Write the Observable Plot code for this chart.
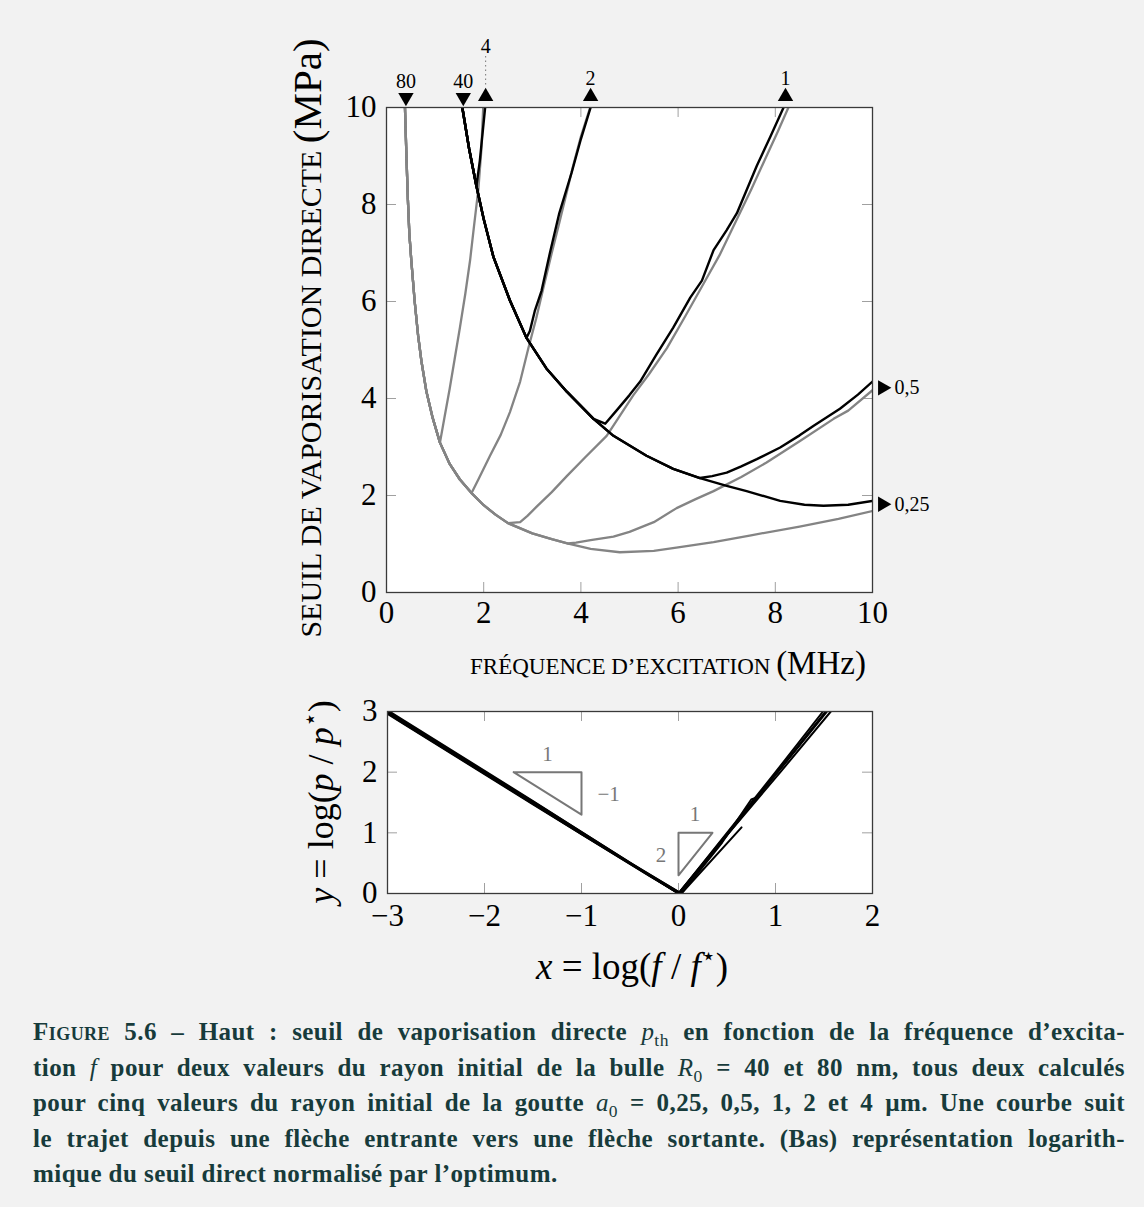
<!DOCTYPE html>
<html>
<head>
<meta charset="utf-8">
<script src="https://cdn.jsdelivr.net/npm/d3@7"></script>
<script src="https://cdn.jsdelivr.net/npm/@observablehq/plot@0.6"></script>
<style>
html, body { margin: 0; padding: 0; background: #f2f2f2; }
#page { position: relative; width: 1144px; height: 1207px; background: #f2f2f2; overflow: hidden; }
#top { position: absolute; left: 0; top: 0; }
#bottom { position: absolute; left: 0; top: 690px; }
#caption { position: absolute; left: 33px; width: 1092px; top: 1014px;
  font-family: "Liberation Serif", serif; font-weight: bold; font-size: 25px;
  letter-spacing: 0.45px; line-height: 35.5px; color: #173b3b; }
#caption .j { text-align: justify; text-align-last: justify; white-space: nowrap; }
#caption .sc { font-variant: small-caps; }
#caption i { font-weight: normal; }
#caption sub { font-size: 70%; line-height: 0; font-weight: normal; }
svg text { font-family: "Liberation Serif", serif; }
</style>
</head>
<body>
<div id="page">
  <div id="top"></div>
  <div id="bottom"></div>
  <div id="caption">
    <div class="j"><span class="sc">Figure</span> 5.6 – Haut : seuil de vaporisation directe <i>p</i><sub>th</sub> en fonction de la fréquence d’excita-</div>
    <div class="j">tion <i>f</i> pour deux valeurs du rayon initial de la bulle <i>R</i><sub>0</sub> = 40 et 80 nm, tous deux calculés</div>
    <div class="j">pour cinq valeurs du rayon initial de la goutte <i>a</i><sub>0</sub> = 0,25, 0,5, 1, 2 et 4 µm. Une courbe suit</div>
    <div class="j">le trajet depuis une flèche entrante vers une flèche sortante. (Bas) représentation logarith-</div>
    <div>mique du seuil direct normalisé par l’optimum.</div>
  </div>
</div>
<script>
// ---------------- DATA ----------------
// Top panel: frequency (MHz) vs direct vaporisation threshold (MPa)
const xTicksTop = [0, 2, 4, 6, 8, 10];
const yTicksTop = [0, 2, 4, 6, 8, 10];
const innerTicksTop = [2, 4, 6, 8];

// R0 = 80 nm (grey): common descending branch, which is the a0 = 0.25 µm curve
const gray_a025 = [[0.38,10],[0.41,9.0],[0.44,8.1],[0.47,7.4],[0.51,6.85],[0.58,6.0],[0.65,5.3],[0.72,4.76],[0.82,4.15],[0.95,3.6],[1.1,3.09],[1.3,2.65],[1.51,2.33],[1.75,2.05],[2.0,1.8],[2.25,1.6],[2.5,1.43],[3.0,1.22],[3.4,1.1],[3.74,1.01],[4.2,0.9],[4.8,0.83],[5.5,0.86],[6.0,0.93],[6.73,1.04],[7.5,1.18],[8.5,1.36],[9.3,1.52],[10,1.68]];
// grey branches leaving the common branch (first point = branch point)
const gray_a05 = [[3.74,1.01],[3.9,1.03],[4.2,1.08],[4.67,1.15],[5.0,1.25],[5.5,1.45],[5.97,1.74],[6.35,1.92],[6.73,2.09],[7.3,2.38],[7.82,2.68],[8.5,3.12],[9.2,3.58],[9.5,3.75],[10,4.17]];
const gray_a1 = [[2.5,1.43],[2.75,1.45],[2.9,1.58],[3.09,1.77],[3.4,2.07],[3.71,2.4],[4.1,2.8],[4.53,3.23],[5.08,4.07],[5.4,4.5],[5.77,5.04],[6.15,5.7],[6.52,6.36],[6.85,6.95],[7.14,7.55],[7.5,8.3],[7.82,9.0],[8.05,9.5],[8.27,10]];
const gray_a2 = [[1.75,2.05],[1.9,2.35],[2.13,2.82],[2.35,3.25],[2.54,3.72],[2.75,4.35],[2.92,5.04],[3.08,5.65],[3.23,6.29],[3.4,7.0],[3.57,7.68],[3.72,8.3],[3.84,8.8],[4.0,9.4],[4.19,10]];
const gray_a4 = [[1.1,3.09],[1.2,3.65],[1.3,4.2],[1.4,4.8],[1.51,5.46],[1.62,6.15],[1.72,6.85],[1.8,7.55],[1.89,8.31],[1.95,9.1],[1.99,10]];

// R0 = 40 nm (black): common descending branch, which is the a0 = 0.25 µm curve
const black_a025 = [[1.56,10],[1.7,9.15],[1.85,8.38],[2.0,7.7],[2.2,6.92],[2.54,6.02],[2.88,5.25],[3.29,4.62],[3.71,4.14],[4.26,3.58],[4.67,3.23],[5.35,2.82],[5.9,2.55],[6.45,2.36],[7.0,2.2],[7.41,2.09],[8.1,1.89],[8.6,1.81],[8.99,1.79],[9.5,1.81],[10,1.89]];
const black_a05 = [[6.45,2.36],[6.7,2.4],[7.0,2.47],[7.3,2.6],[7.62,2.75],[8.1,2.99],[8.5,3.24],[8.79,3.44],[9.33,3.79],[9.7,4.08],[10,4.35]];
const black_a1 = [[4.26,3.58],[4.5,3.48],[4.74,3.76],[5.0,4.07],[5.22,4.35],[5.55,4.9],[5.9,5.46],[6.25,6.08],[6.49,6.43],[6.73,7.06],[7.0,7.47],[7.21,7.82],[7.62,8.8],[7.9,9.4],[8.17,10]];
const black_a2 = [[2.88,5.25],[2.95,5.39],[3.05,5.8],[3.19,6.22],[3.36,6.99],[3.55,7.8],[3.81,8.66],[4.0,9.35],[4.2,10]];
const black_a4 = [[1.85,8.38],[1.92,8.9],[1.97,9.4],[2.03,10]];

// arrows: entering (R0 in nm) and leaving (a0 in µm)
const inArrows = [{label: "80", x: 0.4}, {label: "40", x: 1.58}];
const outTopArrows = [{label: "4", x: 2.04, high: true}, {label: "2", x: 4.2, high: false}, {label: "1", x: 8.21, high: false}];
const outRightArrows = [{label: "0,5", y: 4.22}, {label: "0,25", y: 1.82}];

// Bottom panel: normalised log-log representation
const xTicksBot = [-3, -2, -1, 0, 1, 2];
const yTicksBot = [0, 1, 2, 3];
const innerXBot = [-2, -1, 0, 1];
const innerYBot = [1, 2];
const norm1 = [[-3,3],[-2,2],[-1,1],[0,0],[0.5,1],[1,2],[1.49,3]];
const norm2 = [[-3,2.98],[-2,1.98],[-1,0.98],[0,0],[0.52,1.0],[1.05,2.0],[1.57,3]];
const norm3 = [[-2.57,2.55],[-1.5,1.515],[-0.5,0.51],[0.03,0],[0.65,1.09]];
const norm4 = [[-2.9,2.87],[-1.8,1.78],[-0.6,0.595],[0.03,0],[0.45,0.84],[0.72,1.48],[0.75,1.55],[0.8,1.58],[1.2,2.36],[1.51,2.98]];
const norm5 = [[-3,3.02],[-1.5,1.525],[0,0],[0.6,1.18],[1.1,2.15],[1.53,3]];
const norm6 = [[-3,2.96],[-1.5,1.47],[-0.3,0.29],[0.01,0],[0.55,1.06],[1.52,3]];
const slopeTriLeft = [[-1.7,2],[-1,2],[-1,1.3],[-1.7,2]];
const slopeTriRight = [[0,1],[0.35,1],[0,0.3],[0,1]];
const slopeLabels = [{x:-1.35,y:2.3,t:"1"},{x:-0.72,y:1.64,t:"−1"},{x:0.17,y:1.31,t:"1"},{x:-0.18,y:0.63,t:"2"}];

// ---------------- build tables ----------------
function pathRows(desc, branch, id) {
  const pts = branch ? desc.filter(p => p[0] < branch[0][0]).concat(branch) : desc;
  return pts.map(([x, y]) => ({id, x, y}));
}
const grayRows = [
  ...pathRows(gray_a025, null, "g025"), ...pathRows(gray_a025, gray_a05, "g05"),
  ...pathRows(gray_a025, gray_a1, "g1"), ...pathRows(gray_a025, gray_a2, "g2"),
  ...pathRows(gray_a025, gray_a4, "g4")];
const blackRows = [
  ...pathRows(black_a025, null, "b025"), ...pathRows(black_a025, black_a05, "b05"),
  ...pathRows(black_a025, black_a1, "b1"), ...pathRows(black_a025, black_a2, "b2"),
  ...pathRows(black_a025, black_a4, "b4")];
const normRows = [norm1, norm2, norm3, norm4, norm5, norm6].flatMap((c, i) => c.map(([x, y]) => ({id: i, x, y})));
const toRows = a => a.map(([x, y]) => ({x, y}));

const minusFmt = d => d < 0 ? "−" + Math.abs(d) : String(d);
const FONT = "Liberation Serif";
const TICK = 10;
const tickColor = "#a0a0a0";
const frameColor = "#3a3a3a";

// ---------------- top chart ----------------
const topW = 1144, topH = 690, tML = 386, tMR = 272, tMT = 107, tMB = 98;
const tFW = topW - tML - tMR, tFH = topH - tMT - tMB;
const topSvg = Plot.plot({
  width: topW, height: topH,
  marginLeft: tML, marginRight: tMR, marginTop: tMT, marginBottom: tMB,
  x: {domain: [0, 10]}, y: {domain: [0, 10]},
  style: {background: "transparent", fontFamily: FONT, overflow: "visible"},
  marks: [
    Plot.frame({fill: "white"}),
    Plot.tickX(innerTicksTop, {x: d => d, insetTop: tFH - TICK, stroke: tickColor}),
    Plot.tickX(innerTicksTop, {x: d => d, insetBottom: tFH - TICK, stroke: tickColor}),
    Plot.tickY(innerTicksTop, {y: d => d, insetRight: tFW - TICK, stroke: tickColor}),
    Plot.tickY(innerTicksTop, {y: d => d, insetLeft: tFW - TICK, stroke: tickColor}),
    Plot.line(grayRows, {x: "x", y: "y", z: "id", stroke: "#848484", strokeWidth: 2.3, clip: true}),
    Plot.line(blackRows, {x: "x", y: "y", z: "id", stroke: "#000", strokeWidth: 2.4, clip: true}),
    Plot.frame({stroke: frameColor, strokeWidth: 1.3}),
    Plot.axisX({ticks: xTicksTop, tickSize: 0, tickPadding: 8, fontSize: 31, label: null, tickFormat: minusFmt}),
    Plot.axisY({ticks: yTicksTop, tickSize: 0, tickPadding: 10, fontSize: 31, label: null, tickFormat: minusFmt}),
    // arrows
    Plot.dot(inArrows, {x: "x", frameAnchor: "top", symbol: "triangle", r: 5.7, rotate: 180, fill: "black", dy: -10}),
    Plot.dot(outTopArrows, {x: "x", frameAnchor: "top", symbol: "triangle", r: 5.7, fill: "black", dy: -11}),
    Plot.dot(outRightArrows, {y: "y", frameAnchor: "right", symbol: "triangle", r: 5.7, rotate: 90, fill: "black", dx: 10}),
    Plot.text(inArrows, {x: "x", frameAnchor: "top", text: "label", dy: -34, fontSize: 20}),
    Plot.text(outTopArrows.filter(d => !d.high), {x: "x", frameAnchor: "top", text: "label", dy: -37, fontSize: 20}),
    Plot.text(outTopArrows.filter(d => d.high), {x: "x", frameAnchor: "top", text: "label", dy: -69, fontSize: 20}),
    Plot.tickX(outTopArrows.filter(d => d.high), {x: "x", insetBottom: tFH - 29, dy: -51, stroke: "#777", strokeDasharray: "1.5,3"}),
    Plot.text(outRightArrows, {y: "y", frameAnchor: "right", text: "label", dx: 22, textAnchor: "start", fontSize: 20})
  ]
});
document.getElementById("top").appendChild(topSvg);

// axis titles (small caps emulated with smaller capitals)
{
  const s = d3.select(topSvg);
  const xl = s.append("text").attr("x", 668).attr("y", 674).attr("text-anchor", "middle").attr("fill", "black");
  xl.append("tspan").attr("font-size", 23).text("FRÉQUENCE D’EXCITATION ");
  xl.append("tspan").attr("font-size", 33).text("(MHz)");
  const yl = s.append("text").attr("transform", `translate(321,338) rotate(-90)`).attr("text-anchor", "middle").attr("fill", "black");
  yl.append("tspan").attr("font-size", 30).text("SEUIL DE VAPORISATION DIRECTE ");
  yl.append("tspan").attr("font-size", 41).text("(MPa)");
}

// ---------------- bottom chart ----------------
const botW = 1144, botH = 310, bML = 387, bMR = 272, bMT = 21, bMB = 107;
const bFW = botW - bML - bMR, bFH = botH - bMT - bMB;
const botSvg = Plot.plot({
  width: botW, height: botH,
  marginLeft: bML, marginRight: bMR, marginTop: bMT, marginBottom: bMB,
  x: {domain: [-3, 2]}, y: {domain: [0, 3]},
  style: {background: "transparent", fontFamily: FONT, overflow: "visible"},
  marks: [
    Plot.frame({fill: "white"}),
    Plot.tickX(innerXBot, {x: d => d, insetTop: bFH - TICK, stroke: tickColor}),
    Plot.tickX(innerXBot, {x: d => d, insetBottom: bFH - TICK, stroke: tickColor}),
    Plot.tickY(innerYBot, {y: d => d, insetRight: bFW - TICK, stroke: tickColor}),
    Plot.tickY(innerYBot, {y: d => d, insetLeft: bFW - TICK, stroke: tickColor}),
    Plot.line(toRows(slopeTriLeft), {x: "x", y: "y", stroke: "#777", strokeWidth: 2}),
    Plot.line(toRows(slopeTriRight), {x: "x", y: "y", stroke: "#777", strokeWidth: 2}),
    Plot.text(slopeLabels, {x: "x", y: "y", text: "t", fill: "#777", fontSize: 21}),
    Plot.line(normRows, {x: "x", y: "y", z: "id", stroke: "#000", strokeWidth: 2, clip: true}),
    Plot.frame({stroke: frameColor, strokeWidth: 1.3}),
    Plot.axisX({ticks: xTicksBot, tickSize: 0, tickPadding: 10, fontSize: 31, label: null, tickFormat: minusFmt}),
    Plot.axisY({ticks: yTicksBot, tickSize: 0, tickPadding: 10, fontSize: 31, label: null, tickFormat: minusFmt})
  ]
});
document.getElementById("bottom").appendChild(botSvg);
{
  const s = d3.select(botSvg);
  const xl = s.append("text").attr("x", 632).attr("y", 289).attr("text-anchor", "middle").attr("font-size", 37).attr("fill", "black");
  xl.append("tspan").attr("font-style", "italic").text("x");
  xl.append("tspan").text(" = log(");
  xl.append("tspan").attr("font-style", "italic").text("f");
  xl.append("tspan").text(" / ");
  xl.append("tspan").attr("font-style", "italic").text("f");
  xl.append("tspan").attr("font-size", 24).attr("dy", -15).text("⋆");
  xl.append("tspan").attr("dy", 15).text(")");
  const yl = s.append("text").attr("transform", `translate(333,${bMT + bFH / 2}) rotate(-90)`).attr("text-anchor", "middle").attr("font-size", 36).attr("fill", "black");
  yl.append("tspan").attr("font-style", "italic").text("y");
  yl.append("tspan").text(" = log(");
  yl.append("tspan").attr("font-style", "italic").text("p");
  yl.append("tspan").text(" / ");
  yl.append("tspan").attr("font-style", "italic").text("p");
  yl.append("tspan").attr("font-size", 24).attr("dy", -15).text("⋆");
  yl.append("tspan").attr("dy", 15).text(")");
}
</script>
</body>
</html>
